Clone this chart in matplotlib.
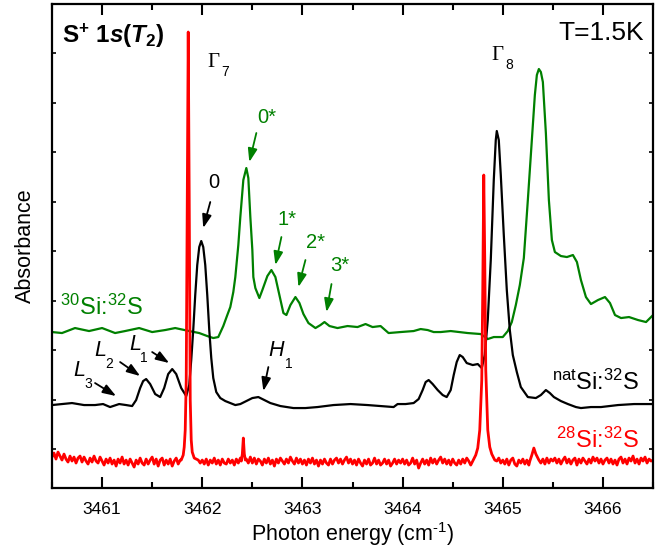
import numpy as np
import matplotlib.pyplot as plt
from matplotlib.ticker import MultipleLocator

plt.rcParams['font.family'] = ['Liberation Sans', 'DejaVu Sans']
plt.rcParams['mathtext.fontset'] = 'custom'
plt.rcParams['mathtext.rm'] = 'Liberation Sans'
plt.rcParams['mathtext.it'] = 'Liberation Sans:italic'
plt.rcParams['mathtext.bf'] = 'Liberation Sans:bold'
plt.rcParams['mathtext.bfit'] = 'Liberation Sans:bold:italic'

GREEN = '#008000'
RED = '#ff0000'

# natSi:32S (black)
nat_x = [3460.50, 3460.60, 3460.70, 3460.82, 3460.93, 3461.01, 3461.08, 3461.17, 3461.24, 3461.30,
         3461.34, 3461.38, 3461.41, 3461.44, 3461.48, 3461.53, 3461.58, 3461.62, 3461.66, 3461.70,
         3461.74, 3461.79, 3461.84, 3461.87, 3461.89, 3461.91, 3461.93, 3461.95, 3461.97, 3461.99,
         3462.01, 3462.03, 3462.05, 3462.07, 3462.09, 3462.11, 3462.14, 3462.18, 3462.23, 3462.28,
         3462.33, 3462.38, 3462.44, 3462.50, 3462.56, 3462.62, 3462.68, 3462.78, 3462.91, 3463.03,
         3463.15, 3463.31, 3463.48, 3463.65, 3463.78, 3463.91, 3463.95, 3464.03, 3464.11, 3464.16,
         3464.20, 3464.23, 3464.26, 3464.30, 3464.35, 3464.40, 3464.44, 3464.48, 3464.51, 3464.54,
         3464.57, 3464.60, 3464.64, 3464.70, 3464.75, 3464.79, 3464.82, 3464.85, 3464.88, 3464.91,
         3464.93, 3464.94, 3464.96, 3464.98, 3465.01, 3465.04, 3465.07, 3465.10, 3465.14, 3465.18,
         3465.25, 3465.33, 3465.38, 3465.43, 3465.47, 3465.51, 3465.58, 3465.65, 3465.73, 3465.78,
         3465.88, 3465.98, 3466.15, 3466.31, 3466.48, 3466.50]
nat_y = [0.83, 0.84, 0.85, 0.83, 0.83, 0.84, 0.81, 0.84, 0.83, 0.82,
         0.88, 1.00, 1.07, 1.09, 1.04, 0.94, 0.91, 1.00, 1.14, 1.19,
         1.14, 1.00, 0.92, 1.03, 1.28, 1.58, 1.93, 2.23, 2.41, 2.47,
         2.41, 2.23, 1.93, 1.58, 1.30, 1.10, 0.96, 0.90, 0.87, 0.85,
         0.83, 0.84, 0.87, 0.90, 0.91, 0.88, 0.85, 0.82, 0.80, 0.80,
         0.81, 0.83, 0.84, 0.83, 0.82, 0.81, 0.84, 0.84, 0.85, 0.89,
         0.98, 1.06, 1.08, 1.04, 0.98, 0.93, 0.91, 0.98, 1.13, 1.26,
         1.33, 1.31, 1.25, 1.23, 1.24, 1.20, 1.33, 1.68, 2.28, 3.08,
         3.48, 3.57, 3.48, 3.13, 2.53, 1.98, 1.58, 1.33, 1.16, 1.01,
         0.91, 0.90, 0.93, 0.98, 0.95, 0.91, 0.87, 0.84, 0.81, 0.80,
         0.81, 0.81, 0.83, 0.84, 0.84, 0.84]

# 30Si:32S (green)
si30_x = [3460.50, 3460.60, 3460.73, 3460.87, 3461.00, 3461.13, 3461.23, 3461.37, 3461.50, 3461.63,
          3461.73, 3461.87, 3461.97, 3462.05, 3462.11, 3462.16, 3462.21, 3462.25, 3462.28, 3462.31,
          3462.33, 3462.36, 3462.38, 3462.41, 3462.44, 3462.46, 3462.48, 3462.50, 3462.51, 3462.53,
          3462.55, 3462.57, 3462.60, 3462.65, 3462.69, 3462.73, 3462.77, 3462.81, 3462.84, 3462.88,
          3462.93, 3462.97, 3463.01, 3463.06, 3463.13, 3463.18, 3463.22, 3463.27, 3463.35, 3463.45,
          3463.55, 3463.63, 3463.70, 3463.78, 3463.86, 3463.98, 3464.11, 3464.18, 3464.25, 3464.31,
          3464.38, 3464.48, 3464.65, 3464.78, 3464.85, 3464.91, 3465.00, 3465.05, 3465.09, 3465.13,
          3465.17, 3465.21, 3465.25, 3465.29, 3465.32, 3465.34, 3465.36, 3465.38, 3465.40, 3465.43,
          3465.46, 3465.49, 3465.52, 3465.58, 3465.64, 3465.70, 3465.74, 3465.78, 3465.83, 3465.88,
          3465.95, 3466.02, 3466.07, 3466.12, 3466.18, 3466.26, 3466.35, 3466.43, 3466.48, 3466.50]
si30_y = [1.56, 1.55, 1.60, 1.57, 1.60, 1.55, 1.57, 1.60, 1.56, 1.58,
          1.60, 1.57, 1.55, 1.52, 1.50, 1.51, 1.62, 1.73, 1.81, 1.96,
          2.11, 2.43, 2.71, 3.08, 3.20, 3.10, 2.71, 2.38, 2.11, 2.00,
          1.95, 1.90, 1.98, 2.12, 2.18, 2.11, 1.93, 1.75, 1.73, 1.83,
          1.91, 1.85, 1.74, 1.65, 1.60, 1.63, 1.66, 1.62, 1.60, 1.62,
          1.61, 1.64, 1.61, 1.62, 1.55, 1.56, 1.57, 1.59, 1.58, 1.56,
          1.56, 1.57, 1.55, 1.54, 1.49, 1.51, 1.51, 1.57, 1.66, 1.83,
          2.03, 2.30, 2.88, 3.48, 3.93, 4.13, 4.19, 4.16, 4.06, 3.55,
          2.88, 2.48, 2.36, 2.32, 2.31, 2.33, 2.26, 2.08, 1.91, 1.84,
          1.88, 1.91, 1.85, 1.73, 1.70, 1.71, 1.68, 1.66, 1.71, 1.73]

# 28Si:32S (red): noisy baseline sampled every 0.02 cm-1 from 3460.50, plus the sharp lines
red_start = 3460.50
red_step = 0.02
red_base = [
    0.31, 0.35, 0.29, 0.36, 0.32, 0.28, 0.34, 0.29, 0.26, 0.32, 0.27, 0.31, 0.25, 0.30, 0.32, 0.26, 0.31, 0.27, 0.24, 0.30, 0.26, 0.32, 0.27, 0.25, 0.31,
    0.27, 0.23, 0.29, 0.25, 0.30, 0.24, 0.28, 0.22, 0.29, 0.25, 0.31, 0.24, 0.28, 0.23, 0.29, 0.25, 0.21, 0.28, 0.24, 0.30, 0.25, 0.23, 0.29, 0.24, 0.28,
    0.31, 0.24, 0.29, 0.22, 0.28, 0.30, 0.23, 0.28, 0.24, 0.29, 0.22, 0.27, 0.30, 0.24, 0.28, 0.31, 0.27, 0.27, 0.27, 0.27, 0.27, 0.27, 0.29, 0.28, 0.25,
    0.28, 0.24, 0.29, 0.23, 0.28, 0.25, 0.30, 0.24, 0.28, 0.23, 0.29, 0.25, 0.24, 0.29, 0.25, 0.28, 0.23, 0.29, 0.25, 0.30, 0.27, 0.27, 0.29, 0.25, 0.31,
    0.25, 0.30, 0.24, 0.29, 0.27, 0.23, 0.29, 0.25, 0.30, 0.24, 0.28, 0.22, 0.29, 0.25, 0.30, 0.27, 0.24, 0.29, 0.25, 0.31, 0.27, 0.24, 0.30, 0.25, 0.29,
    0.24, 0.28, 0.23, 0.29, 0.25, 0.30, 0.24, 0.28, 0.22, 0.28, 0.24, 0.29, 0.25, 0.23, 0.29, 0.24, 0.28, 0.30, 0.25, 0.29, 0.24, 0.28, 0.31, 0.25, 0.29,
    0.24, 0.28, 0.23, 0.29, 0.25, 0.22, 0.28, 0.24, 0.29, 0.23, 0.25, 0.30, 0.24, 0.28, 0.23, 0.25, 0.29, 0.24, 0.28, 0.22, 0.25, 0.29, 0.24, 0.28, 0.25,
    0.29, 0.24, 0.28, 0.23, 0.25, 0.30, 0.24, 0.28, 0.20, 0.25, 0.29, 0.24, 0.28, 0.23, 0.30, 0.25, 0.29, 0.24, 0.28, 0.31, 0.25, 0.29, 0.24, 0.28, 0.23,
    0.29, 0.25, 0.23, 0.28, 0.24, 0.29, 0.25, 0.30, 0.27, 0.23, 0.29, 0.31, 0.27, 0.27, 0.27, 0.27, 0.27, 0.27, 0.27, 0.27, 0.27, 0.27, 0.27, 0.30, 0.25,
    0.28, 0.24, 0.29, 0.23, 0.28, 0.30, 0.24, 0.22, 0.28, 0.25, 0.29, 0.24, 0.28, 0.23, 0.27, 0.27, 0.27, 0.27, 0.27, 0.25, 0.29, 0.24, 0.30, 0.25, 0.29,
    0.27, 0.30, 0.25, 0.29, 0.24, 0.28, 0.31, 0.25, 0.29, 0.24, 0.28, 0.30, 0.23, 0.29, 0.25, 0.30, 0.27, 0.24, 0.29, 0.25, 0.31, 0.27, 0.30, 0.25, 0.29,
    0.24, 0.28, 0.30, 0.25, 0.29, 0.24, 0.28, 0.23, 0.29, 0.31, 0.25, 0.29, 0.24, 0.30, 0.27, 0.32, 0.25, 0.29, 0.24, 0.30, 0.27, 0.31, 0.25, 0.29, 0.27,
    0.28]
red_lines_x = [
    [3461.79, 3461.81, 3461.82, 3461.83, 3461.84, 3461.85, 3461.86, 3461.87, 3461.88, 3461.89, 3461.90, 3461.92],
    [3462.39, 3462.40, 3462.41, 3462.42, 3462.43],
    [3464.70, 3464.73, 3464.75, 3464.77, 3464.79, 3464.80, 3464.81, 3464.82, 3464.83, 3464.85, 3464.87, 3464.89, 3464.92],
    [3465.27, 3465.29, 3465.31, 3465.33, 3465.36],
]
red_lines_y = [
    [0.28, 0.33, 0.41, 0.58, 1.08, 2.88, 4.56, 2.88, 0.88, 0.48, 0.36, 0.30],
    [0.27, 0.34, 0.50, 0.34, 0.28],
    [0.27, 0.33, 0.40, 0.58, 1.08, 1.98, 3.13, 2.28, 1.18, 0.58, 0.41, 0.34, 0.28],
    [0.27, 0.33, 0.40, 0.34, 0.28],
]

y_ticks = [0.39, 0.885, 1.38, 1.875, 2.37, 2.865, 3.36, 3.855, 4.35]


def build_red():
    bx = red_start + red_step * np.arange(len(red_base))
    by = np.array(red_base)
    keep = np.ones(len(bx), dtype=bool)
    for lx in red_lines_x:
        keep &= ~((bx >= lx[0] - 1e-9) & (bx <= lx[-1] + 1e-9))
    xs = np.concatenate([bx[keep]] + [np.array(v) for v in red_lines_x])
    ys = np.concatenate([by[keep]] + [np.array(v) for v in red_lines_y])
    order = np.argsort(xs)
    return xs[order], ys[order]


def arrow(ax, start, tip, color):
    ax.annotate('', xy=tip, xytext=start,
                arrowprops=dict(arrowstyle='-|>,head_length=0.8,head_width=0.28',
                                color=color, lw=1.3, shrinkA=0, shrinkB=0))


def main():
    fig = plt.figure(figsize=(6.58, 5.49), dpi=100)
    ax = fig.add_axes([0.079, 0.111, 0.9135, 0.8817])

    red_x, red_y = build_red()
    ax.plot(si30_x, si30_y, color=GREEN, lw=1.6)
    ax.plot(nat_x, nat_y, color='black', lw=1.6)
    ax.plot(red_x, red_y, color=RED, lw=2.0)

    ax.set_xlim(3460.5, 3466.5)
    ax.set_ylim(0, 4.84)
    ax.xaxis.set_major_locator(MultipleLocator(1))
    ax.xaxis.set_minor_locator(MultipleLocator(0.5))
    ax.set_yticks(y_ticks)
    ax.set_yticklabels([])
    ax.tick_params(axis='x', which='major', direction='in', length=8, width=1.5,
                   top=True, labelsize=12.5, pad=10)
    ax.tick_params(axis='x', which='minor', direction='in', length=4, width=1.5, top=True)
    ax.tick_params(axis='y', which='major', direction='in', length=3, width=1.2, right=True)
    for s in ax.spines.values():
        s.set_linewidth(1.6)

    ax.set_xlabel(r'Photon energy (cm$^{\text{-1}}$)', fontsize=15.5, labelpad=2)
    ax.set_ylabel('Absorbance', fontsize=15.5, labelpad=8)

    # headings
    ax.text(3460.60, 4.45, r'$\mathbf{S}^{\mathbf{+}}\ \mathbf{1}\mathbfit{s}\mathbf{(}\mathbfit{T}_{\mathbf{2}}\mathbf{)}$',
            fontsize=17.5, ha='left', va='baseline')
    ax.text(3466.41, 4.48, 'T=1.5K', fontsize=19, ha='right', va='baseline')

    # Gamma labels
    ax.text(3462.05, 4.26, 'Γ', family='Liberation Serif', fontsize=15, ha='left', va='center')
    ax.text(3462.19, 4.16, '7', fontsize=10, ha='left', va='center')
    ax.text(3464.89, 4.33, 'Γ', family='Liberation Serif', fontsize=15, ha='left', va='center')
    ax.text(3465.03, 4.23, '8', fontsize=10, ha='left', va='center')

    # sample labels
    ax.text(3460.58, 1.73, r'$^{30}$Si:$^{32}$S', color=GREEN, fontsize=17, ha='left', va='baseline')
    ax.text(3466.36, 0.98, r'$^{\mathrm{nat}}$Si:$^{32}$S', color='black', fontsize=17, ha='right', va='baseline')
    ax.text(3466.36, 0.40, r'$^{28}$Si:$^{32}$S', color=RED, fontsize=17, ha='right', va='baseline')

    # peak labels with arrows
    ax.text(3462.12, 3.06, '0', fontsize=14.5, ha='center', va='center')
    arrow(ax, (3462.08, 2.86), (3462.01, 2.60), 'black')
    ax.text(3462.64, 3.71, '0*', color=GREEN, fontsize=14.5, ha='center', va='center')
    arrow(ax, (3462.54, 3.55), (3462.47, 3.26), GREEN)
    ax.text(3462.85, 2.69, '1*', color=GREEN, fontsize=14.5, ha='center', va='center')
    arrow(ax, (3462.79, 2.51), (3462.73, 2.23), GREEN)
    ax.text(3463.13, 2.46, '2*', color=GREEN, fontsize=14.5, ha='center', va='center')
    arrow(ax, (3463.03, 2.28), (3462.96, 2.01), GREEN)
    ax.text(3463.37, 2.23, '3*', color=GREEN, fontsize=14.5, ha='center', va='center')
    arrow(ax, (3463.29, 2.04), (3463.24, 1.76), GREEN)

    # L and H labels
    for lx, ly, sub in [(3460.71, 1.18, '3'), (3460.92, 1.38, '2'), (3461.27, 1.44, '1')]:
        ax.text(lx, ly, 'L', style='italic', fontsize=15.5, ha='left', va='center')
        ax.text(lx + 0.11, ly - 0.14, sub, fontsize=10, ha='left', va='center')
    ax.text(3462.66, 1.38, 'H', style='italic', fontsize=15.5, ha='left', va='center')
    ax.text(3462.83, 1.24, '1', fontsize=10, ha='left', va='center')
    arrow(ax, (3460.93, 1.05), (3461.14, 0.92), 'black')
    arrow(ax, (3461.18, 1.26), (3461.38, 1.12), 'black')
    arrow(ax, (3461.50, 1.36), (3461.67, 1.25), 'black')
    arrow(ax, (3462.66, 1.21), (3462.61, 0.97), 'black')

    fig.savefig('out.png', dpi=100)


if __name__ == '__main__':
    main()
